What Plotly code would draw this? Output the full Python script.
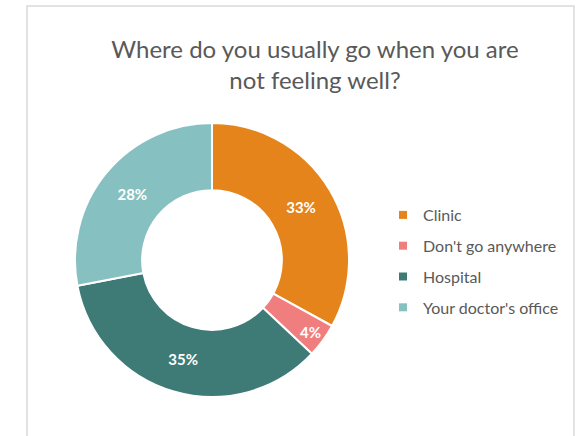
import plotly.graph_objects as go

# Survey responses
categories = ["Clinic", "Don't go anywhere", "Hospital", "Your doctor's office"]
shares = [33, 4, 35, 28]
colors = ["#E5841A", "#F17E7E", "#3E7B77", "#87C0C0"]

W, H = 588, 436
cx, cy, r = 212, 260, 137

fig = go.Figure()

fig.add_trace(go.Pie(
    labels=categories,
    values=shares,
    sort=False,
    direction="clockwise",
    rotation=0,
    hole=0.51,
    marker=dict(colors=colors, line=dict(color="white", width=2)),
    textinfo="percent",
    texttemplate="%{percent:.0%}",
    textposition="inside",
    insidetextorientation="horizontal",
    textfont=dict(family="Lato", size=15, color="white", weight="bold"),
    showlegend=False,
    hoverinfo="label+percent",
    domain=dict(x=[(cx - r) / W, (cx + r) / W],
                y=[1 - (cy + r) / H, 1 - (cy - r) / H]),
))

# Legend entries, one per category, spaced apart via legend groups
for name, col in zip(categories, colors):
    fig.add_trace(go.Scatter(
        x=[None], y=[None], mode="markers", name=name, legendgroup=name,
        marker=dict(symbol="square", size=8, color=col),
    ))

fig.update_layout(
    width=W, height=H,
    margin=dict(l=0, r=0, t=0, b=0),
    paper_bgcolor="white",
    plot_bgcolor="white",
    xaxis=dict(visible=False),
    yaxis=dict(visible=False),
    uniformtext=dict(minsize=15, mode="show"),
    title=dict(
        text="Where do you usually go when you are<br>not feeling well?",
        x=315 / W, xanchor="center",
        y=1 - 58 / H, yanchor="top",
        font=dict(family="Lato", size=24, color="#595959"),
    ),
    legend=dict(
        x=383 / W, xanchor="left",
        y=1 - 198 / H, yanchor="top",
        font=dict(family="Lato", size=16, color="#595959"),
        tracegroupgap=7,
        itemwidth=30,
        bgcolor="rgba(0,0,0,0)",
    ),
    shapes=[dict(
        type="rect", xref="paper", yref="paper",
        x0=27 / W, x1=574 / W, y0=-0.05, y1=1 - 6 / H,
        line=dict(color="#D9D9D9", width=1.5), layer="below",
    )],
)

fig.write_html("out.html")
